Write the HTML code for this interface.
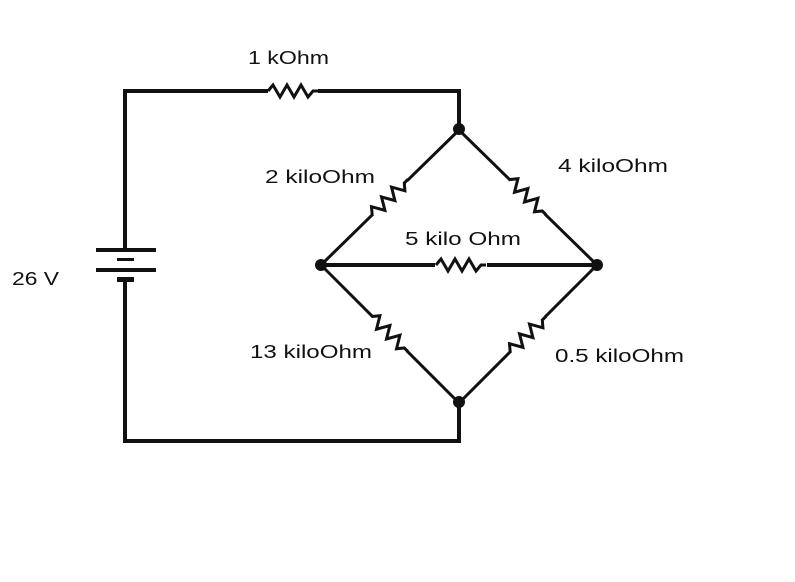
<!DOCTYPE html>
<html><head><meta charset="utf-8"><style>
html,body{margin:0;padding:0;background:#fff;}
svg text{font-family:"Liberation Sans",sans-serif;font-size:18px;fill:#111;}
</style></head><body>
<svg width="795" height="577" viewBox="0 0 795 577" xmlns="http://www.w3.org/2000/svg">
<defs>
<g id="zz"><path d="M-25,0 L-20,-6 L-13,6 L-6,-6 L1,6 L8,-6 L15,6 L20,0 L25,0" fill="none" stroke="#111" stroke-width="3" stroke-linejoin="miter"/></g>
</defs>
<g stroke="#111" stroke-width="4" fill="none">
<path d="M125,250 V91 H268 M318,91 H459 V130"/>
<path d="M125,280 V441 H459 V403"/>
<path d="M321,265 H435 M487,265 H597"/>
</g>
<use href="#zz" x="293" y="91"/>
<use href="#zz" x="461" y="265"/>
<g stroke="#111" stroke-width="3">
<line x1="459" y1="130" x2="321" y2="265"/>
<line x1="459" y1="130" x2="597" y2="265"/>
<line x1="459" y1="403" x2="321" y2="265"/>
<line x1="459" y1="403" x2="597" y2="265"/>
</g>
<g fill="#fff" stroke="none">
<rect x="-24" y="-8" width="48" height="16" transform="translate(390,197) rotate(-44.4)"/>
<rect x="-24" y="-8" width="48" height="16" transform="translate(528,197) rotate(44.4)"/>
<rect x="-24" y="-8" width="48" height="16" transform="translate(390,334) rotate(44.4)"/>
<rect x="-24" y="-8" width="48" height="16" transform="translate(528,334) rotate(-44.4)"/>
</g>
<use href="#zz" transform="translate(390,197) rotate(-44.4)"/>
<use href="#zz" transform="translate(528,197) rotate(44.4)"/>
<use href="#zz" transform="translate(390,334) rotate(44.4)"/>
<use href="#zz" transform="translate(528,334) rotate(-44.4)"/>
<g fill="#111">
<circle cx="459" cy="129" r="6"/>
<circle cx="321" cy="265" r="6"/>
<circle cx="597" cy="265" r="6"/>
<circle cx="459" cy="402" r="6"/>
<rect x="96" y="248" width="60" height="4"/>
<rect x="117" y="258" width="17" height="3"/>
<rect x="96" y="268" width="60" height="4"/>
<rect x="117" y="277" width="17" height="5"/>
</g>
<text x="248" y="64" textLength="81" lengthAdjust="spacingAndGlyphs">1 kOhm</text>
<text x="265" y="183" textLength="110" lengthAdjust="spacingAndGlyphs">2 kiloOhm</text>
<text x="558" y="172" textLength="110" lengthAdjust="spacingAndGlyphs">4 kiloOhm</text>
<text x="405" y="245" textLength="116" lengthAdjust="spacingAndGlyphs">5 kilo Ohm</text>
<text x="12" y="285" textLength="47" lengthAdjust="spacingAndGlyphs">26 V</text>
<text x="250" y="358" textLength="122" lengthAdjust="spacingAndGlyphs">13 kiloOhm</text>
<text x="555" y="362" textLength="129" lengthAdjust="spacingAndGlyphs">0.5 kiloOhm</text>
</svg>
</body></html>
